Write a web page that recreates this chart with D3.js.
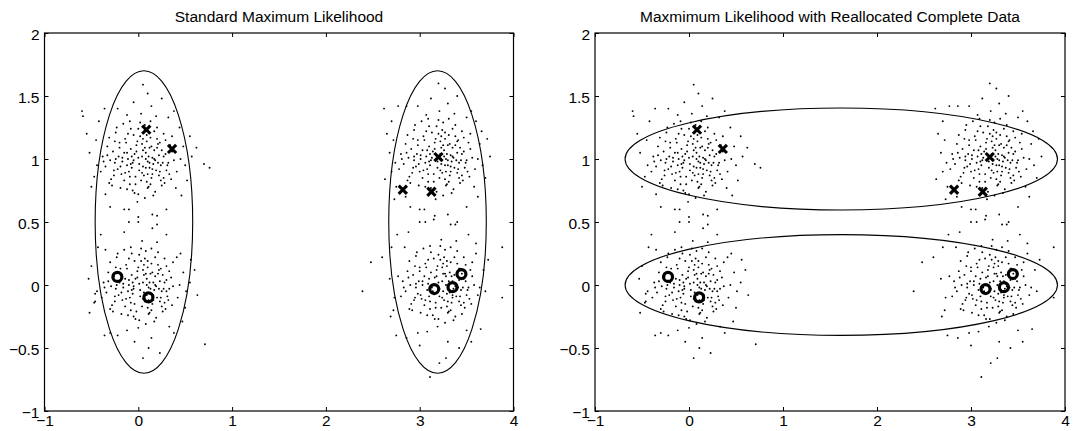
<!DOCTYPE html>
<html>
<head>
<meta charset="utf-8">
<script src="https://cdn.jsdelivr.net/npm/d3@7"></script>
<style>
  html, body { margin: 0; padding: 0; background: #fff; }
  svg { display: block; }
  text { font-family: "Liberation Sans", Arial, Helvetica, sans-serif; fill: #000; }
</style>
</head>
<body>
<svg id="chart" width="1089" height="431"></svg>
<script>
// Panel titles
const titles = [
  "Standard Maximum Likelihood",
  "Maxmimum Likelihood with Reallocated Complete Data"
];

// Axis ticks and their labels
const xTicks = [-1, 0, 1, 2, 3, 4];
const xTickLabels = ["\u22121", "0", "1", "2", "3", "4"];
const yTicks = [-1, -0.5, 0, 0.5, 1, 1.5, 2];
const yTickLabels = ["\u22121", "\u22120.5", "0", "0.5", "1", "1.5", "2"];

// Sample points, one list per cluster
const clusterTopLeft = [
  [-.12,1.05],[.08,.93],[.21,1.12],[-.03,.86],[.15,1.01],[-.25,.97],[.02,1.18],[.11,.78],[-.08,1.24],[.31,.95],
  [-.18,.88],[.05,1.07],[.24,.83],[-.33,1.1],[.13,1.3],[-.05,.99],[.19,.91],[-.14,1.16],[.36,1.06],[.0,.72],
  [-.21,1.02],[.09,1.14],[.27,1.2],[-.09,.8],[.16,.96],[-.29,.84],[.04,.89],[.22,1.03],[-.16,1.28],[.07,.69],
  [-.02,1.11],[.33,.88],[-.24,1.21],[.12,1.09],[-.07,.93],[.18,.74],[-.35,.94],[.03,1.36],[.26,.97],[-.11,1.0],
  [.14,.85],[-.19,.77],[.29,1.15],[-.04,1.04],[.1,.98],[-.27,1.06],[.2,1.25],[-.1,.9],[.06,1.21],[.38,.99],
  [-.15,.83],[.01,.96],[.23,.9],[-.31,1.17],[.17,1.07],[-.06,.75],[.13,1.17],[-.22,.92],[.28,.81],[.0,1.01],
  [-.13,1.13],[.09,.82],[.34,1.11],[-.26,.87],[.05,.94],[.19,1.34],[-.38,1.02],[.11,1.02],[-.01,.66],[.25,1.07],
  [-.17,.98],[.07,1.27],[-.08,1.08],[.3,.91],[-.23,1.25],[.15,.88],[-.03,.8],[.21,.97],[-.3,.99],[.04,1.12],
  [.16,.71],[-.12,.95],[.27,1.02],[-.05,1.19],[.08,1.05],[-.2,1.09],[.35,.84],[-.09,.86],[.12,.93],[-.28,.79],
  [.02,1.29],[.2,1.16],[-.15,1.05],[.06,.87],[-.4,.9],[.24,.95],[-.01,1.14],[.1,.77],[-.24,1.0],[.17,1.0],
  [-.45,1.15],[-.6,1.38],[-.59,1.34],[.57,1.02],[.52,.83],[.7,.96],[.76,.93],[-.5,.78],[.44,1.25],[.46,.71],
  [-.42,1.3],[.48,1.1],[.25,1.48],[-.05,1.45],[.1,1.52],[.38,1.38],[-.3,.62],[.15,.56],[-.15,.6],[.3,.6],
  [-.47,.86],[.41,.9],[.05,1.59],[-.36,1.4],[.55,1.18],[.62,1.09],[-.52,1.05],[.0,.54],[.2,.48],[-.1,.5],
  [.45,1.0],[-.44,.95],[.32,1.33],[-.22,1.4],[.4,.77],[-.35,.72],[.14,1.42],[-.12,1.35],[.5,.95],[-.55,1.2],
  [-.07,1.02],[.14,1.1],[-.19,.94],[.03,.83],[.22,.87],[-.11,1.2],[.08,1.0],[.29,1.04],[-.33,1.03],[.01,.91],
  [.17,1.22],[-.26,.91],[.12,.97],[-.04,.73],[.2,1.09],[-.14,.89],[.05,1.16],[.32,.97],[-.09,1.3],[.1,.88],
  [-.2,1.13],[.25,.79],[-.02,1.06],[.18,.99],[-.31,.81],[.07,1.09],[.13,.8],[-.17,1.01],[.36,1.18],[-.06,.97],
  [.23,1.13],[-.12,.76],[.04,1.02],[-.25,1.14],[.15,.92],[.0,1.24],[-.37,.98],[.27,.85],[.09,1.19],[-.08,.96]
];

const clusterBottomLeft = [
  [-.1,.04],[.09,-.08],[.22,.12],[-.04,-.15],[.16,.02],[-.24,-.03],[.03,.19],[.12,-.22],[-.07,.25],[.3,-.05],
  [-.17,-.12],[.06,.08],[.25,-.17],[-.32,.1],[.14,.29],[-.05,-.01],[.2,-.1],[-.13,.16],[.35,.06],[.01,-.28],
  [-.2,.02],[.1,.14],[.28,.21],[-.08,-.2],[.17,-.04],[-.28,-.16],[.05,-.11],[.23,.03],[-.15,.28],[.08,-.31],
  [-.01,.11],[.32,-.12],[-.23,.22],[.13,.09],[-.06,-.07],[.19,-.26],[-.34,-.06],[.04,.35],[.27,-.03],[-.1,.0],
  [.15,-.15],[-.18,-.23],[.3,.15],[-.03,.05],[.11,-.02],[-.26,.07],[.21,.26],[-.09,-.1],[.07,.21],[.37,-.01],
  [-.14,-.17],[.02,-.04],[.24,-.1],[-.3,.18],[.18,.07],[-.05,-.25],[.14,.17],[-.21,-.08],[.29,-.19],[.01,.01],
  [-.12,.13],[.1,-.18],[.33,.11],[-.25,-.13],[.06,-.06],[.2,.34],[-.37,.02],[.12,.02],[.0,-.34],[.26,.08],
  [-.16,-.02],[.08,.27],[-.07,.08],[.31,-.09],[-.22,.25],[.16,-.12],[-.02,-.21],[.22,-.03],[-.29,-.01],[.05,.12],
  [.17,-.29],[-.11,-.05],[.28,.02],[-.04,.19],[.09,.05],[-.19,.09],[.36,-.16],[-.08,-.14],[.13,-.07],[-.27,-.21],
  [.03,.29],[.21,.16],[-.14,.05],[.07,-.13],[-.39,-.1],[.25,-.05],[.0,.14],[.11,-.23],[-.23,.0],[.18,.0],
  [-.46,-.13],[-.46,-.07],[-.5,.15],[.55,.02],[.5,-.18],[.71,-.47],[.6,.12],[-.52,-.22],[.45,.25],[.47,-.29],
  [-.43,.3],[.48,.1],[.23,-.54],[-.04,-.45],[.11,-.5],[.38,-.38],[-.3,-.38],[.15,.45],[-.15,.42],[.3,.4],
  [-.47,-.14],[.42,-.1],[.05,-.58],[-.36,-.4],[.56,.2],[.63,-.08],[-.53,.05],[.0,.5],[.2,.55],[-.1,.6],
  [.44,.0],[-.44,-.05],[.33,-.33],[-.22,-.4],[.41,.22],[-.35,.28],[.14,-.42],[-.12,-.36],[.51,-.05],[-.4,.4],
  [-.06,.02],[.15,.1],[-.18,-.06],[.04,-.17],[.23,-.13],[-.1,.21],[.09,.0],[.3,.04],[-.32,.03],[.02,-.09],
  [.18,.22],[-.25,-.09],[.13,-.03],[-.03,-.27],[.21,.09],[-.13,-.11],[.06,.16],[.33,-.03],[-.08,.3],[.11,-.12],
  [-.19,.13],[.26,-.21],[-.01,.06],[.19,-.01],[-.3,-.19],[.08,.09],[.14,-.2],[-.16,.01],[.37,.18],[-.05,-.03],
  [.24,.13],[-.11,-.24],[.05,.02],[-.24,.14],[.16,-.08],[.01,.24],[-.36,-.02],[.28,-.14],[.1,.19],[-.07,-.04]
];

const clusterTopRight = [
  [3.08,1.07],[3.27,.95],[3.4,1.14],[3.15,.88],[3.33,1.03],[2.94,.99],[3.2,1.2],[3.29,.8],[3.1,1.26],[3.49,.97],
  [3.0,.9],[3.23,1.09],[3.42,.85],[2.85,1.12],[3.31,1.32],[3.13,1.01],[3.37,.93],[3.04,1.18],[3.54,1.08],[3.18,.74],
  [2.97,1.04],[3.27,1.16],[3.45,1.22],[3.09,.82],[3.34,.98],[2.89,.86],[3.22,.91],[3.4,1.05],[3.02,1.3],[3.25,.71],
  [3.16,1.13],[3.51,.9],[2.94,1.23],[3.3,1.11],[3.11,.95],[3.36,.76],[2.83,.96],[3.21,1.38],[3.44,.99],[3.07,1.02],
  [3.32,.87],[2.99,.79],[3.47,1.17],[3.14,1.06],[3.28,1.0],[2.91,1.08],[3.38,1.27],[3.08,.92],[3.24,1.23],[3.56,1.01],
  [3.03,.85],[3.19,.98],[3.41,.92],[2.87,1.19],[3.35,1.09],[3.12,.77],[3.31,1.19],[2.96,.94],[3.46,.83],[3.18,1.03],
  [3.05,1.15],[3.27,.84],[3.52,1.13],[2.92,.89],[3.23,.96],[3.37,1.36],[2.8,1.04],[3.29,1.04],[3.17,.68],[3.43,1.09],
  [3.01,1.0],[3.25,1.29],[3.1,1.1],[3.48,.93],[2.95,1.27],[3.33,.9],[3.15,.82],[3.39,.99],[2.88,1.01],[3.22,1.14],
  [3.34,.73],[3.06,.97],[3.45,1.04],[3.13,1.21],[3.26,1.07],[2.98,1.11],[3.53,.86],[3.09,.88],[3.3,.95],[2.9,.81],
  [3.2,1.31],[3.38,1.18],[3.03,1.07],[3.24,.89],[2.78,.92],[3.42,.97],[3.17,1.16],[3.28,.79],[2.94,1.02],[3.35,1.02],
  [2.72,1.15],[2.62,1.4],[2.63,.84],[3.75,1.02],[3.7,.85],[3.66,1.22],[2.75,.78],[3.62,.7],[2.7,1.3],[3.64,1.12],
  [2.77,1.42],[3.6,1.3],[3.4,1.5],[3.12,1.48],[3.27,1.56],[3.55,1.38],[2.9,.62],[3.3,.56],[3.05,.6],[3.5,.62],
  [2.7,.9],[3.59,.92],[3.2,1.6],[2.86,1.42],[3.72,1.16],[2.68,1.05],[2.73,.68],[3.15,.52],[3.38,.48],[3.0,.5],
  [3.62,1.0],[2.74,.97],[3.5,1.33],[2.98,1.42],[3.58,.78],[2.85,.7],[3.3,1.44],[3.07,1.35],[3.67,.95],[2.65,1.2],
  [3.11,1.04],[3.32,1.12],[2.99,.96],[3.21,.85],[3.4,.89],[3.07,1.22],[3.26,1.02],[3.47,1.06],[2.86,1.05],[3.19,.93],
  [3.35,1.24],[2.93,.93],[3.3,.99],[3.14,.75],[3.38,1.11],[3.04,.91],[3.23,1.18],[3.5,.99],[3.09,1.32],[3.28,.9],
  [2.98,1.15],[3.43,.81],[3.16,1.08],[3.36,1.01],[2.87,.83],[3.25,1.11],[3.31,.82],[3.01,1.03],[3.54,1.2],[3.12,.99],
  [3.41,1.15],[3.06,.78],[3.22,1.04],[2.93,1.16],[3.33,.94],[3.18,1.26],[2.81,1.0],[3.45,.87],[3.27,1.21],[3.1,.98]
];

const clusterBottomRight = [
  [3.1,.05],[3.29,-.07],[3.42,.13],[3.17,-.14],[3.35,.03],[2.96,-.02],[3.22,.2],[3.31,-.21],[3.12,.26],[3.51,-.04],
  [3.02,-.11],[3.25,.09],[3.44,-.16],[2.87,.11],[3.33,.3],[3.15,.0],[3.39,-.09],[3.06,.17],[3.56,.07],[3.2,-.27],
  [2.99,.03],[3.29,.15],[3.47,.22],[3.11,-.19],[3.36,-.03],[2.91,-.15],[3.24,-.1],[3.42,.04],[3.04,.29],[3.27,-.3],
  [3.18,.12],[3.53,-.11],[2.96,.23],[3.32,.1],[3.13,-.06],[3.38,-.25],[2.85,-.05],[3.23,.36],[3.46,-.02],[3.09,.01],
  [3.34,-.14],[3.01,-.22],[3.49,.16],[3.16,.06],[3.3,-.01],[2.93,.08],[3.4,.27],[3.1,-.09],[3.26,.22],[3.58,.0],
  [3.05,-.16],[3.21,-.03],[3.43,-.09],[2.89,.19],[3.37,.08],[3.14,-.24],[3.33,.18],[2.98,-.07],[3.48,-.18],[3.2,.02],
  [3.07,.14],[3.29,-.17],[3.54,.12],[2.94,-.12],[3.25,-.05],[3.39,.35],[2.82,.03],[3.31,.03],[3.19,-.33],[3.45,.09],
  [3.03,.0],[3.27,.28],[3.12,.1],[3.5,-.08],[2.97,.26],[3.35,-.1],[3.17,-.18],[3.41,-.02],[2.9,.0],[3.24,.14],
  [3.36,-.28],[3.08,-.04],[3.47,.05],[3.15,.21],[3.28,.07],[3.0,.11],[3.55,-.15],[3.11,-.13],[3.32,-.06],[2.92,-.2],
  [3.22,.31],[3.4,.17],[3.05,.07],[3.26,-.12],[2.8,-.09],[3.44,-.04],[3.19,.15],[3.3,-.22],[2.96,.01],[3.37,.01],
  [2.39,-.05],[2.48,.18],[2.6,.22],[3.88,.3],[3.88,-.1],[3.11,-.73],[2.72,-.2],[3.65,-.35],[2.7,.3],[3.68,.12],
  [2.75,-.4],[3.6,.33],[3.42,-.5],[3.0,-.48],[3.28,-.58],[3.55,-.45],[2.88,.42],[3.33,.48],[3.06,.5],[3.52,.4],
  [2.73,-.1],[3.62,-.08],[3.21,-.62],[2.86,-.42],[3.73,.2],[2.68,.05],[2.76,.4],[3.16,.55],[3.4,.5],[3.0,.6],
  [3.64,-.02],[2.77,.07],[3.5,-.36],[2.98,-.38],[3.6,.25],[2.84,.3],[3.3,-.45],[3.08,-.37],[3.7,-.05],[2.69,-.25],
  [3.13,-.02],[3.34,.07],[3.01,-.08],[3.23,-.18],[3.42,-.13],[3.09,.2],[3.28,.0],[3.49,.03],[2.88,.06],[3.21,-.09],
  [3.37,.22],[2.95,-.1],[3.32,-.04],[3.16,-.27],[3.4,.1],[3.06,-.12],[3.25,.17],[3.52,-.02],[3.11,.31],[3.3,-.13],
  [3.0,.14],[3.45,-.23],[3.18,.07],[3.38,-.01],[2.89,-.19],[3.27,.09],[3.33,-.2],[3.03,.03],[3.56,.18],[3.14,-.05],
  [3.43,.13],[3.08,-.24],[3.24,.03],[2.95,.15],[3.35,-.08],[3.2,.24],[2.83,-.02],[3.47,-.14],[3.29,.19],[3.12,-.01]
];

// Highlighted samples
const crossPoints = [[0.085, 1.233], [0.36, 1.08], [3.2, 1.015], [2.82, 0.756], [3.125, 0.74]];
const ringPoints = [[-0.223, 0.064], [0.108, -0.098], [3.155, -0.032], [3.35, -0.017], [3.445, 0.087]];

// Fitted component ellipses (centre and semi-axes) for each panel
const ellipsesStandard = [
  { cx: 0.06, cy: 0.5, rx: 0.52, ry: 1.2 },
  { cx: 3.19, cy: 0.5, rx: 0.52, ry: 1.2 }
];
const ellipsesReallocated = [
  { cx: 1.62, cy: 1.0, rx: 2.3, ry: 0.405 },
  { cx: 1.62, cy: 0.0, rx: 2.3, ry: 0.4 }
];

const allPoints = clusterTopLeft.concat(clusterBottomLeft, clusterTopRight, clusterBottomRight);

const panels = [
  { title: titles[0], left: 44.5, right: 513.5, ellipses: ellipsesStandard },
  { title: titles[1], left: 595, right: 1065, ellipses: ellipsesReallocated }
];
const plotTop = 33, plotBottom = 411;
const fontSize = 15.5;
const tickLen = 4;

const svg = d3.select("#chart");

panels.forEach(p => {
  const x = d3.scaleLinear().domain([-1, 4]).range([p.left, p.right]);
  const y = d3.scaleLinear().domain([-1, 2]).range([plotBottom, plotTop]);
  const g = svg.append("g");

  // data dots
  g.append("g")
    .selectAll("circle")
    .data(allPoints)
    .join("circle")
    .attr("cx", d => x(d[0]))
    .attr("cy", d => y(d[1]))
    .attr("r", 0.95)
    .attr("fill", "#000");

  // ellipses
  g.append("g")
    .selectAll("ellipse")
    .data(p.ellipses)
    .join("ellipse")
    .attr("cx", d => x(d.cx))
    .attr("cy", d => y(d.cy))
    .attr("rx", d => x(d.cx + d.rx) - x(d.cx))
    .attr("ry", d => y(d.cy) - y(d.cy + d.ry))
    .attr("fill", "none")
    .attr("stroke", "#000")
    .attr("stroke-width", 1.1);

  // cross markers
  const cs = 4.1;
  g.append("g")
    .selectAll("path")
    .data(crossPoints)
    .join("path")
    .attr("d", d => {
      const px = x(d[0]), py = y(d[1]);
      return `M${px - cs},${py - cs}L${px + cs},${py + cs}M${px - cs},${py + cs}L${px + cs},${py - cs}`;
    })
    .attr("stroke", "#000")
    .attr("stroke-width", 3.1)
    .attr("fill", "none");

  // ring markers
  g.append("g")
    .selectAll("circle")
    .data(ringPoints)
    .join("circle")
    .attr("cx", d => x(d[0]))
    .attr("cy", d => y(d[1]))
    .attr("r", 4.5)
    .attr("fill", "none")
    .attr("stroke", "#000")
    .attr("stroke-width", 3.2);

  // axes with inward ticks on all four sides
  const axB = d3.axisBottom(x).tickValues(xTicks).tickSizeInner(-tickLen).tickSizeOuter(0).tickPadding(4)
    .tickFormat((d, i) => xTickLabels[i]);
  const axT = d3.axisTop(x).tickValues(xTicks).tickSizeInner(-tickLen).tickSizeOuter(0).tickFormat("");
  const axL = d3.axisLeft(y).tickValues(yTicks).tickSizeInner(-tickLen).tickSizeOuter(0).tickPadding(5)
    .tickFormat((d, i) => yTickLabels[i]);
  const axR = d3.axisRight(y).tickValues(yTicks).tickSizeInner(-tickLen).tickSizeOuter(0).tickFormat("");

  const style = sel => {
    sel.select(".domain").remove();
    sel.selectAll(".tick line").attr("stroke", "#000").attr("stroke-width", 1);
    sel.selectAll(".tick text").attr("font-size", fontSize)
      .attr("font-family", "'Liberation Sans', Arial, sans-serif").attr("fill", "#000");
  };
  g.append("g").attr("transform", `translate(0,${plotBottom})`).call(axB).call(style);
  g.append("g").attr("transform", `translate(0,${plotTop})`).call(axT).call(style);
  g.append("g").attr("transform", `translate(${p.left},0)`).call(axL).call(style)
    .selectAll(".tick text").attr("dy", "0.42em");
  g.append("g").attr("transform", `translate(${p.right},0)`).call(axR).call(style);

  // frame
  g.append("rect")
    .attr("x", p.left).attr("y", plotTop)
    .attr("width", p.right - p.left).attr("height", plotBottom - plotTop)
    .attr("fill", "none").attr("stroke", "#000").attr("stroke-width", 1.2);

  // title
  g.append("text")
    .attr("x", (p.left + p.right) / 2)
    .attr("y", 22)
    .attr("text-anchor", "middle")
    .attr("font-size", fontSize)
    .text(p.title);
});
</script>
</body>
</html>
